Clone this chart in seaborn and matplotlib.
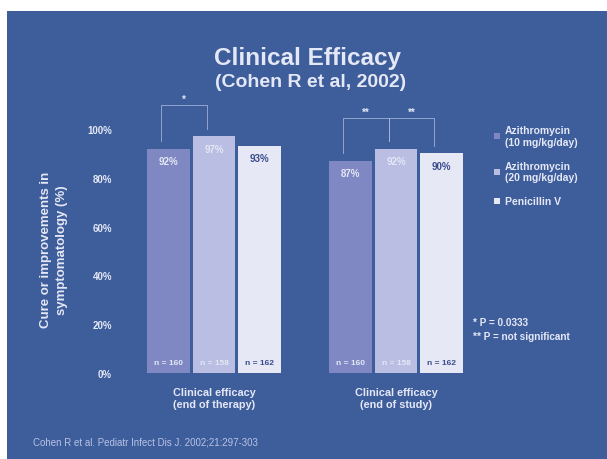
import matplotlib
matplotlib.use("Agg")
import matplotlib.pyplot as plt
from matplotlib.patches import Rectangle
import seaborn as sns
import pandas as pd

# ---- data ----
categories = ["Clinical efficacy\n(end of therapy)", "Clinical efficacy\n(end of study)"]
treatments = ["Azithromycin\n(10 mg/kg/day)", "Azithromycin\n(20 mg/kg/day)", "Penicillin V"]
azi10 = [92, 87]
azi20 = [97, 92]
penv = [93, 90]
n_azi10 = ["n = 160", "n = 160"]
n_azi20 = ["n = 158", "n = 158"]
n_penv = ["n = 162", "n = 162"]
y_ticks = [0, 20, 40, 60, 80, 100]
y_ticklabels = ["0%", "20%", "40%", "60%", "80%", "100%"]
footnotes = ["* P = 0.0333", "** P = not significant"]
citation = "Cohen R et al. Pediatr Infect Dis J. 2002;21:297-303"

rows = []
for t, vals in zip(treatments, [azi10, azi20, penv]):
    for c, v in zip(categories, vals):
        rows.append({"category": c, "treatment": t, "value": v})
df = pd.DataFrame(rows)
n_texts = {treatments[0]: n_azi10, treatments[1]: n_azi20, treatments[2]: n_penv}

# ---- style ----
BG = "#3e5d9b"
TXT = "#e4e8f6"
DARK = "#3b4c8c"
palette = ["#7f88c2", "#b9bee2", "#e6e8f5"]
FONT = "Liberation Sans"

W, H = 607, 460
fig = plt.figure(figsize=(W / 100, H / 100), dpi=100, facecolor="white")
fig.patches.append(Rectangle((7 / W, 0), 1, (H - 12) / H, transform=fig.transFigure,
                             facecolor=BG, edgecolor="none", zorder=-10))

def fx(px):
    return px / W

def fy(py):
    return (H - py) / H

# axes placed in pixel terms: x=0 -> 214px, x=1 -> 396px; y=0 -> 374px, 100 -> 130px
px_per_unit = 182
ymax = 115
px_per_pct = 2.44
left = 214 - 0.5 * px_per_unit
ax = fig.add_axes([fx(left), fy(374), 2 * px_per_unit / W, ymax * px_per_pct / H])
ax.set_facecolor("none")

sns.barplot(data=df, x="category", y="value", hue="treatment", order=categories,
            hue_order=treatments, palette=palette, width=0.75, gap=0.055,
            saturation=1, ax=ax, legend=True, edgecolor="none")

ax.set_xlim(-0.5, 1.5)
ax.set_ylim(0, ymax)
for s in ax.spines.values():
    s.set_visible(False)
ax.set_yticks(y_ticks)
ax.set_yticklabels(y_ticklabels, fontsize=7, fontweight="bold", color=TXT, family=FONT)
ax.tick_params(axis="y", length=0, pad=8)
ax.set_xticks([0, 1])
ax.set_xticklabels(categories, fontsize=7.8, fontweight="bold", color=TXT, family=FONT,
                   linespacing=1.3)
ax.tick_params(axis="x", length=0, pad=10)
ax.set_xlabel("")
ax.set_ylabel("")

fig.text(fx(54), fy(250), "Cure or improvements in\nsymptomatology (%)", rotation=90,
         ha="center", va="center", fontsize=9.5, fontweight="bold", color=TXT,
         family=FONT, linespacing=1.45, multialignment="center")

# value labels and n labels inside the bars
bar_info = {}
for container, t in zip(ax.containers, treatments):
    lab_col = DARK if t == treatments[2] else TXT
    for i, bar in enumerate(container):
        xc = bar.get_x() + bar.get_width() / 2
        h = bar.get_height()
        bar_info[(t, i)] = (xc, h)
        ax.text(xc, h - 5, f"{h:.0f}%", ha="center", va="center", fontsize=7,
                fontweight="bold", color=lab_col, family=FONT)
        ax.text(xc, 4.5, n_texts[t][i], ha="center", va="center", fontsize=6,
                fontweight="bold", color=lab_col, family=FONT)

# significance brackets
def bracket(t1, t2, i, y, label):
    x1, h1 = bar_info[(t1, i)]
    x2, h2 = bar_info[(t2, i)]
    x1 -= 0.04
    x2 -= 0.04
    kw = dict(color="#aab6de", lw=0.7, clip_on=False, alpha=0.8)
    ax.plot([x1, x1, x2, x2], [h1 + 3, y, y, h2 + 3], **kw)
    ax.text((x1 + x2) / 2, y + 0.5, label, ha="center", va="bottom", fontsize=7,
            color=TXT, family=FONT, fontweight="bold")

bracket(treatments[0], treatments[1], 0, 110, "*")
bracket(treatments[0], treatments[1], 1, 104.5, "**")
bracket(treatments[1], treatments[2], 1, 104.5, "**")

# legend
handles, labels = ax.get_legend_handles_labels()
leg = ax.legend(handles, labels, loc="upper left", bbox_to_anchor=(fx(490), fy(122)),
                bbox_transform=fig.transFigure, frameon=False, fontsize=7.5,
                handlelength=0.55, handleheight=0.55, handletextpad=0.45,
                labelspacing=1.35, borderaxespad=0)
for txt in leg.get_texts():
    txt.set_color(TXT)
    txt.set_fontweight("bold")
    txt.set_family(FONT)

# titles
fig.text(fx(308), fy(58), "Clinical Efficacy", ha="center", va="center",
         fontsize=17.5, fontweight="bold", color=TXT, family=FONT)
fig.text(fx(311), fy(83), "(Cohen R et al, 2002)", ha="center", va="center",
         fontsize=14, fontweight="bold", color=TXT, family=FONT)

# footnotes and source
for k, line in enumerate(footnotes):
    fig.text(fx(473), fy(323 + 14 * k), line, ha="left", va="center",
             fontsize=7.2, fontweight="bold", color=TXT, family=FONT)
fig.text(fx(33), fy(443), citation, ha="left", va="center",
         fontsize=7, color="#b8c3e6", family=FONT)

fig.savefig("out.png", dpi=100, facecolor="white")
